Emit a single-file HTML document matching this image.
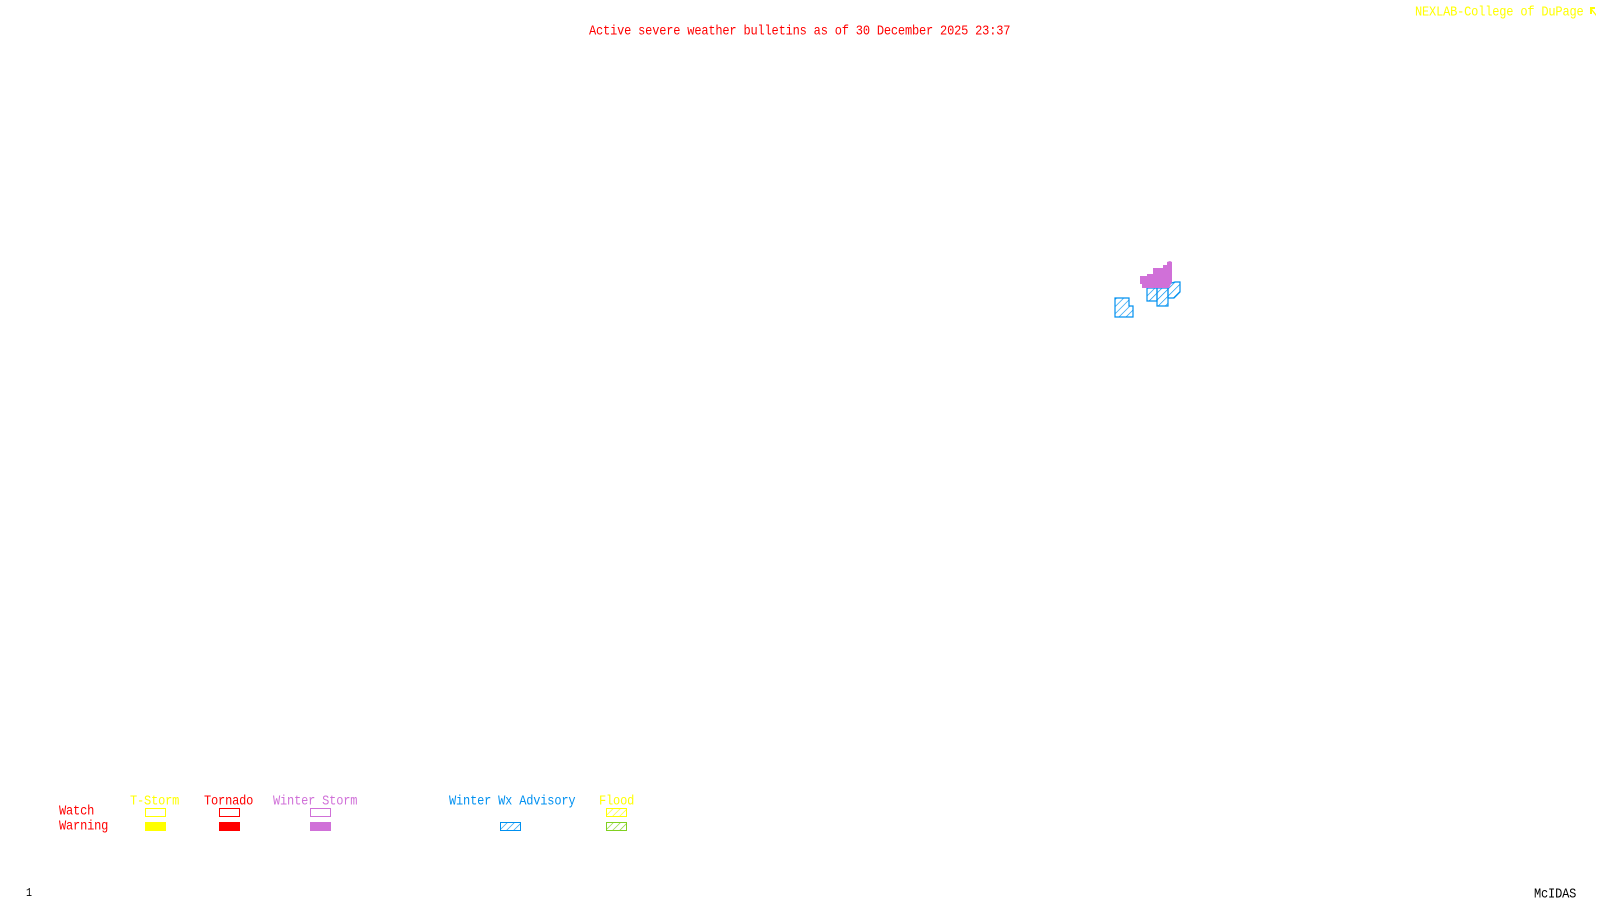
<!DOCTYPE html>
<html><head><meta charset="utf-8"><style>
html,body{margin:0;padding:0;background:#fff;width:1600px;height:900px;overflow:hidden}
.t{position:absolute;font-family:"Liberation Mono",monospace;font-size:12px;line-height:12px;letter-spacing:-0.18px;white-space:pre;transform:scaleY(1.15);transform-origin:0 0}
</style></head><body>
<div class="t" style="left:589px;top:24px;color:#f00">Active severe weather bulletins as of 30 December 2025 23:37</div>
<div class="t" style="left:1415px;top:5px;color:#ff0">NEXLAB-College of DuPage</div>
<div class="t" style="left:130px;top:794px;color:#ff0">T-Storm</div>
<div class="t" style="left:204px;top:794px;color:#f00">Tornado</div>
<div class="t" style="left:273px;top:794px;color:#d070d8">Winter Storm</div>
<div class="t" style="left:449px;top:794px;color:#0090f0">Winter Wx Advisory</div>
<div class="t" style="left:599px;top:794px;color:#ff0">Flood</div>
<div class="t" style="left:59px;top:804px;color:#f00">Watch</div>
<div class="t" style="left:59px;top:819px;color:#f00">Warning</div>
<div class="t" style="left:26px;top:888px;color:#000;font-size:10px">1</div>
<div class="t" style="left:1534px;top:887px;color:#000">McIDAS</div>
<svg width="1600" height="900" style="position:absolute;left:0;top:0">
<defs>
<pattern id="hb" width="5" height="5" patternUnits="userSpaceOnUse" patternTransform="rotate(45)"><line x1="0" y1="0" x2="0" y2="5" stroke="#0090f0" stroke-width="1.3"/></pattern>
<pattern id="hy" width="5" height="5" patternUnits="userSpaceOnUse" patternTransform="rotate(45)"><line x1="0" y1="0" x2="0" y2="5" stroke="#ff0" stroke-width="1.3"/></pattern>
<pattern id="hg" width="5" height="5" patternUnits="userSpaceOnUse" patternTransform="rotate(45)"><line x1="0" y1="0" x2="0" y2="5" stroke="#80d020" stroke-width="1.3"/></pattern>
</defs>
<path d="M1590 7h5v2h-3l4 5v2l-4-5v3h-2z" fill="#ff0"/>
<rect x="145.5" y="808.5" width="20" height="8" fill="none" stroke="#ff0"/>
<rect x="145" y="822" width="21" height="9" fill="#ff0"/>
<rect x="219.5" y="808.5" width="20" height="8" fill="none" stroke="#f00"/>
<rect x="219" y="822" width="21" height="9" fill="#f00"/>
<rect x="310.5" y="808.5" width="20" height="8" fill="none" stroke="#d070d8"/>
<rect x="310" y="822" width="21" height="9" fill="#d070d8"/>
<rect x="500.5" y="822.5" width="20" height="8" fill="url(#hb)" stroke="#0090f0"/>
<rect x="606.5" y="808.5" width="20" height="8" fill="url(#hy)" stroke="#ff0"/>
<rect x="606.5" y="822.5" width="20" height="8" fill="url(#hg)" stroke="#80d020"/>
<g fill="url(#hb)" stroke="#0090f0" stroke-width="1.2">
<path d="M1147 288h10v13h-10z"/>
<path d="M1157 288h11v18h-11z"/>
<path d="M1168 284l7-2h5v10l-6 6h-6z"/>
<path d="M1115 298h14v8h4v11h-18z"/>
</g>
<path d="M1140 276h7v-2h6v-6h10v-3h4v-3l3-1 2 1v20l-3 6h-27v-4h-2z" fill="#d070d8"/>
</svg>
</body></html>
